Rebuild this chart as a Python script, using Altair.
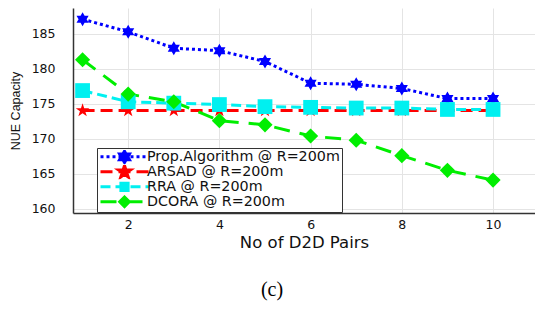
import altair as alt
import pandas as pd
import numpy as np

pairs = [1, 2, 3, 4, 5, 6, 7, 8, 9, 10]
prop_alg = [187.1, 185.3, 182.95, 182.6, 181.05, 177.95, 177.8, 177.2, 175.75, 175.75]
arsad = [174.05, 174.05, 174.05, 174.05, 174.05, 174.05, 174.05, 174.05, 174.05, 174.05]
rra = [176.9, 175.3, 175.1, 174.9, 174.6, 174.5, 174.4, 174.4, 174.2, 174.2]
dcora = [181.3, 176.4, 175.3, 172.6, 172.0, 170.4, 169.8, 167.6, 165.5, 164.1]

series_names = ["Prop.Algorithm @ R=200m", "ARSAD @ R=200m", "RRA @ R=200m", "DCORA @ R=200m"]
series_values = [prop_alg, arsad, rra, dcora]
x_ticks = [2, 4, 6, 8, 10]
y_ticks = [160, 165, 170, 175, 180, 185]

colors = ["#0000ff", "#ff0000", "#00f0f0", "#00ee00"]
dashes = [[3, 3], [12, 6], [10, 5], [16, 10]]
marker_sizes = [196, 230, 72, 150]


def fmt(v):
    return f"{v:.3f}".rstrip("0").rstrip(".")


def poly(pts):
    return "M" + "L".join(f"{fmt(a)},{fmt(b)}" for a, b in pts) + "Z"


def hexagram(s=1.0):
    t1 = [(0, -s), (0.866 * s, 0.5 * s), (-0.866 * s, 0.5 * s)]
    t2 = [(0, s), (-0.866 * s, -0.5 * s), (0.866 * s, -0.5 * s)]
    return poly(t1) + poly(t2)


def pentagram(s=1.0):
    pts = []
    for k in range(10):
        ang = np.deg2rad(-90 + 36 * k)
        r = s if k % 2 == 0 else 0.382 * s
        pts.append((r * np.cos(ang), r * np.sin(ang)))
    return poly(pts)


def square(s=1.0):
    return poly([(-s, -s), (s, -s), (s, s), (-s, s)])


def diamond(s=1.0):
    return poly([(0, -s), (s, 0), (0, s), (-s, 0)])


marker_paths = [hexagram(1), pentagram(1), square(1), diamond(1)]

# legend symbols: dashed line segment + marker (unit = 6 px)
unit = 6.0
half_len = 4.0


def dash_segments(pattern):
    on, off = pattern[0] / unit, pattern[1] / unit
    x = -half_len
    segs = ""
    while x < half_len:
        e = min(x + on, half_len)
        segs += f"M{fmt(x)},0H{fmt(e)}"
        x = e + off
    return segs


legend_marker = [hexagram(0.95), pentagram(1.05), square(0.6), diamond(0.8)]
legend_paths = [dash_segments(d) + m for d, m in zip(dashes, legend_marker)]

rows = []
for name, vals in zip(series_names, series_values):
    for p, v in zip(pairs, vals):
        rows.append({"pairs": p, "value": v, "series": name})
df = pd.DataFrame(rows)

xs = alt.X("pairs:Q",
           scale=alt.Scale(domain=[0.79, 10.92], nice=False, zero=False),
           axis=alt.Axis(values=x_ticks, title="No of D2D Pairs", labelPadding=5,
                         titlePadding=4, titleFont="DejaVu Sans", titleFontSize=16.5))
ys = alt.Y("value:Q",
           scale=alt.Scale(domain=[159.4, 188.7], nice=False, zero=False),
           axis=alt.Axis(values=y_ticks, title="NUE Capacity", labelPadding=18,
                         titlePadding=9, titleFont="Liberation Sans", titleFontSize=12.5))

color_scale = alt.Scale(domain=series_names, range=colors)

lines = alt.Chart(df).mark_line(strokeWidth=3).encode(
    x=xs, y=ys,
    color=alt.Color("series:N", scale=color_scale, legend=None, sort=series_names),
    strokeDash=alt.StrokeDash("series:N", scale=alt.Scale(domain=series_names, range=dashes),
                              legend=None, sort=series_names),
)

points = alt.Chart(df).mark_point(filled=True, opacity=1).encode(
    x=xs, y=ys,
    color=alt.Color("series:N", scale=color_scale, legend=None, sort=series_names),
    shape=alt.Shape("series:N", scale=alt.Scale(domain=series_names, range=marker_paths),
                    legend=None),
    size=alt.Size("series:N", scale=alt.Scale(domain=series_names, range=marker_sizes),
                  legend=None),
)

leg = alt.Legend(title=None, orient="none", legendX=24, legendY=140,
                 strokeColor="#333333", fillColor="white", padding=2,
                 symbolSize=144, symbolStrokeWidth=3, symbolOffset=18,
                 labelOffset=15, labelFont="DejaVu Sans", labelFontSize=14.3,
                 labelLimit=400, labelColor="#111111", rowPadding=-3.6, clipHeight=13.7,
                 cornerRadius=0)

legend_layer = alt.Chart(df).transform_filter("false").mark_point(
    filled=True, opacity=1, strokeWidth=3).encode(
    fill=alt.Fill("series:N", scale=alt.Scale(domain=series_names, range=colors), legend=leg),
    stroke=alt.Stroke("series:N", scale=alt.Scale(domain=series_names, range=colors), legend=leg),
    shape=alt.Shape("series:N", scale=alt.Scale(domain=series_names, range=legend_paths), legend=leg),
)

chart = alt.layer(lines, points, legend_layer).resolve_scale(
    shape="independent", fill="independent", stroke="independent"
).properties(
    width=462, height=205,
    padding={"left": 65, "top": 0, "right": 0, "bottom": 89},
    autosize=alt.AutoSizeParams(type="none"),
    title=alt.TitleParams("(c)", orient="bottom", font="Liberation Serif", fontSize=20,
                          fontWeight="normal", color="#000000", offset=29, dx=-32),
).configure_axis(
    grid=True, gridColor="#e4e4e4", gridWidth=1,
    domainColor="#333333", domainWidth=1.5, ticks=False,
    labelFont="DejaVu Sans", labelFontSize=12.5, labelColor="#111111",
    titleColor="#111111", titleFontWeight="normal",
).configure_view(stroke=None)

chart.save("out.html", embed_options={"renderer": "svg", "actions": False})
